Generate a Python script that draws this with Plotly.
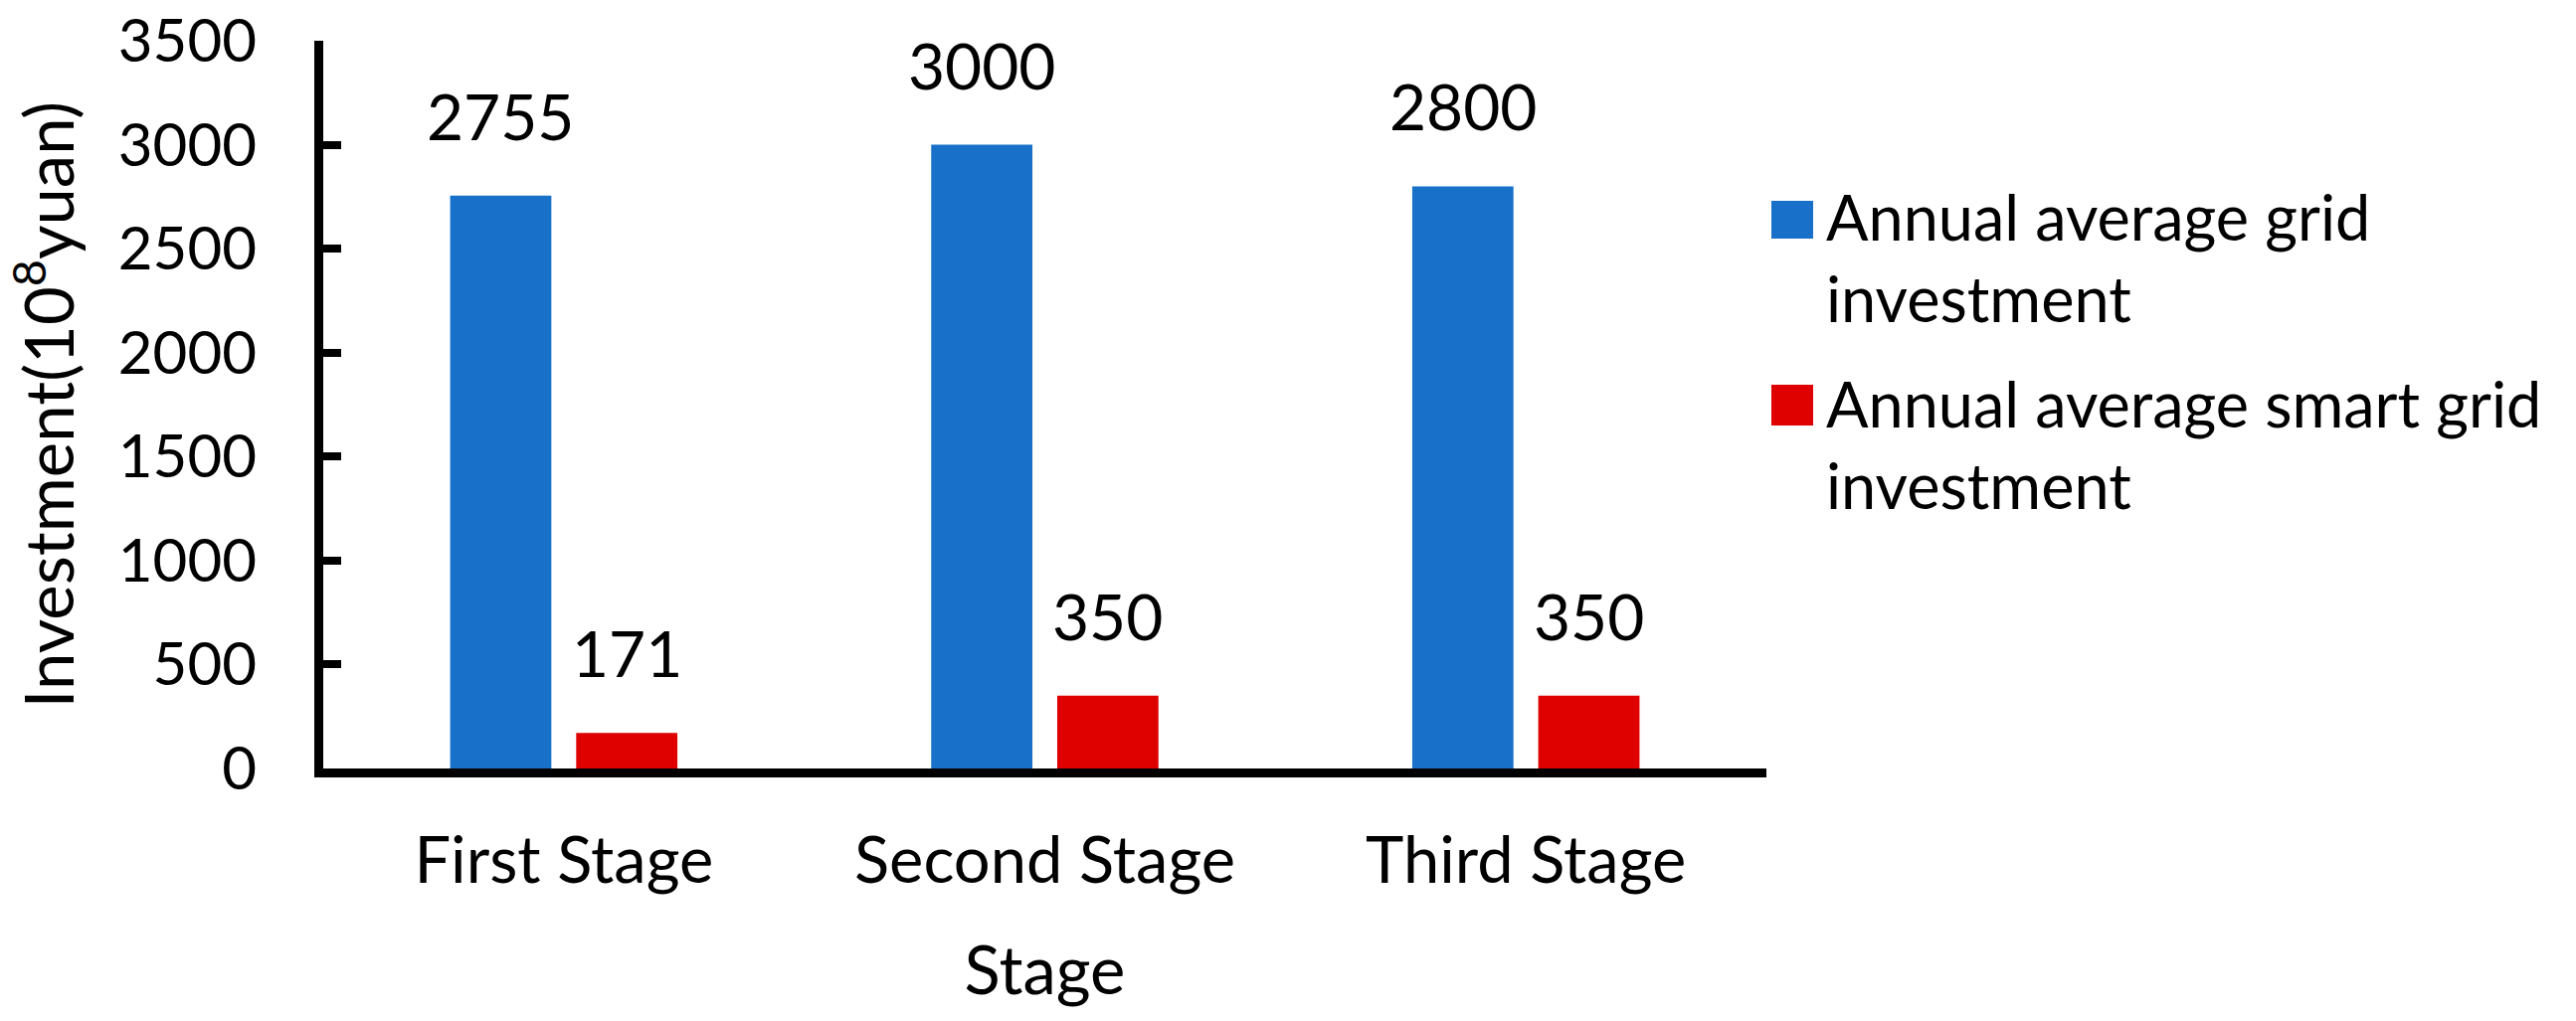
import plotly.graph_objects as go

# data
stages = ["First Stage", "Second Stage", "Third Stage"]
grid_invest = [2755, 3000, 2800]
smart_invest = [171, 350, 350]
series_names = ["Annual average grid<br>investment", "Annual average smart grid<br>investment"]
series_colors = ["#1870c8", "#df0000"]
y_ticks = [0, 500, 1000, 1500, 2000, 2500, 3000, 3500]

W, H = 2590, 1027
ML, MR, MT, MB = 325, 814, 41, 254
PW = W - ML - MR
PH = H - MT - MB
FONT = "Lato"


def px_x(p):
    return (p - ML) / PW


def px_y(p):
    return (H - MB - p) / PH


fig = go.Figure()
for name, vals, col in zip(series_names, [grid_invest, smart_invest], series_colors):
    fig.add_trace(go.Bar(x=stages, y=vals, name=name, marker=dict(color=col, line=dict(width=0))))

# value labels above bars
shift = PW / len(stages) * (1 - 0.476) / 4
for vals, xs in [(grid_invest, -shift), (smart_invest, shift)]:
    for s, v in zip(stages, vals):
        fig.add_annotation(x=s, y=v, xref="x", yref="y", text=str(v), showarrow=False,
                           xshift=xs, yshift=40, yanchor="bottom",
                           font=dict(family=FONT, size=64, color="#000"))

# hand-made legend with big square keys
leg_rows = [(202, 240, 258), (387, 428, 446)]
for (y0, y1, ym), name, col in zip(leg_rows, series_names, series_colors):
    fig.add_shape(type="rect", xref="paper", yref="paper",
                  x0=px_x(1781), x1=px_x(1823), y0=px_y(y1), y1=px_y(y0),
                  fillcolor=col, line=dict(width=0))
    fig.add_annotation(xref="paper", yref="paper", x=px_x(1834), y=px_y(ym),
                       xanchor="left", yanchor="middle", align="left", showarrow=False,
                       text=name, font=dict(family=FONT, size=63, color="#000"))

fig.update_layout(
    width=W, height=H,
    margin=dict(l=ML, r=MR, t=MT, b=MB, autoexpand=False),
    paper_bgcolor="white", plot_bgcolor="white",
    barmode="group", bargap=0.476, bargroupgap=0.197,
    showlegend=False,
    font=dict(family=FONT, color="#000"),
)
fig.update_xaxes(
    automargin=False,
    showline=True, linecolor="#000", linewidth=9, showgrid=False,
    ticks="", tickfont=dict(family=FONT, size=65), ticklabelstandoff=28,
    title=dict(text="Stage", font=dict(family=FONT, size=67), standoff=56),
)
fig.update_yaxes(
    automargin=False,
    range=[0, 3500], tickvals=y_ticks, showgrid=False, zeroline=False,
    showline=True, linecolor="#000", linewidth=9,
    ticks="inside", ticklen=18, tickwidth=8, tickcolor="#000",
    tickfont=dict(family=FONT, size=60), ticklabelstandoff=46,
    title=dict(text="Investment(10<sup>8</sup>yuan)", font=dict(family=FONT, size=67), standoff=34),
)

# drop the browser's default page margin so the figure sits at the window corner
fig.write_html("out.html", config={"displayModeBar": False},
               post_script="document.body.style.margin='0';")
